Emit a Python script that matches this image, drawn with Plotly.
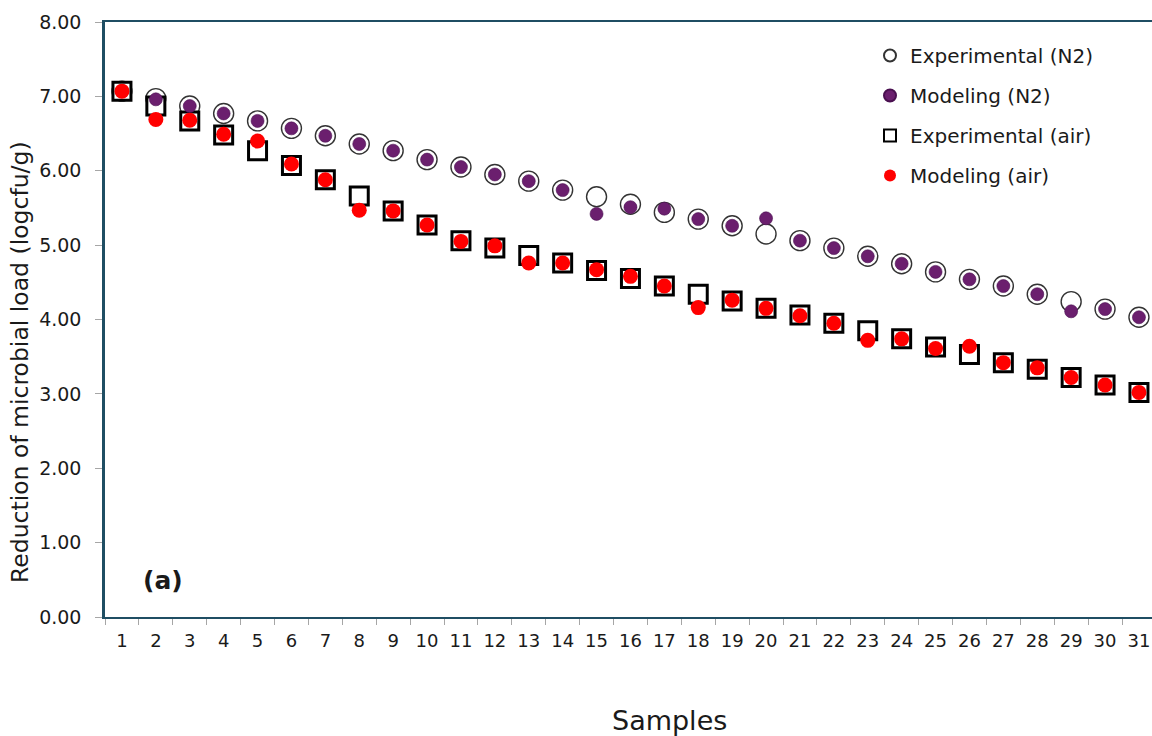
import plotly.graph_objects as go

# Sample numbers along the x axis
samples = [str(i) for i in range(1, 32)]

# Reduction of microbial load (logcfu/g)
exp_n2 = [7.07, 6.97, 6.87, 6.77, 6.67, 6.57, 6.47, 6.36, 6.27, 6.15,
          6.05, 5.95, 5.86, 5.74, 5.65, 5.55, 5.44, 5.35, 5.26, 5.15,
          5.06, 4.96, 4.85, 4.75, 4.64, 4.54, 4.45, 4.34, 4.24, 4.14, 4.03]
mod_n2 = [7.07, 6.96, 6.87, 6.77, 6.67, 6.57, 6.47, 6.36, 6.27, 6.15,
          6.05, 5.95, 5.86, 5.74, 5.42, 5.51, 5.49, 5.35, 5.26, 5.36,
          5.06, 4.96, 4.85, 4.75, 4.64, 4.54, 4.45, 4.34, 4.11, 4.14, 4.03]
exp_air = [7.07, 6.87, 6.67, 6.48, 6.27, 6.07, 5.88, 5.66, 5.46, 5.27,
           5.06, 4.96, 4.86, 4.76, 4.66, 4.55, 4.45, 4.34, 4.25, 4.15,
           4.06, 3.95, 3.85, 3.74, 3.63, 3.53, 3.42, 3.33, 3.22, 3.12, 3.02]
mod_air = [7.07, 6.69, 6.68, 6.49, 6.40, 6.09, 5.88, 5.47, 5.46, 5.27,
           5.05, 4.99, 4.76, 4.76, 4.67, 4.58, 4.45, 4.16, 4.26, 4.15,
           4.05, 3.95, 3.72, 3.74, 3.61, 3.64, 3.42, 3.35, 3.22, 3.12, 3.02]

y_ticks = [0, 1, 2, 3, 4, 5, 6, 7, 8]

FONT = "DejaVu Sans"
TEXT = "#1A1A1A"
AXIS = "#1F4E63"
TICK = "#A6A6A6"

W, H = 1152, 736
L, R, T, B = 105, 0, 22, 119
plot_w = W - L - R
plot_h = H - T - B
cat_px = 33.9  # width of one sample slot


def px_x(px):
    return (px - L) / plot_w


def px_y(py):
    return (H - B - py) / plot_h


fig = go.Figure()

fig.add_trace(go.Scatter(
    x=samples, y=exp_n2, mode="markers", name="Experimental (N2)",
    legendgroup="a", legendrank=1,
    marker=dict(symbol="circle", size=20, color="white",
                line=dict(color="#333333", width=1.4)),
))
fig.add_trace(go.Scatter(
    x=samples, y=exp_air, mode="markers", name="Experimental (air)",
    legendgroup="c", legendrank=3,
    marker=dict(symbol="square", size=18, color="white",
                line=dict(color="black", width=3)),
))
fig.add_trace(go.Scatter(
    x=samples, y=mod_n2, mode="markers", name="Modeling (N2)",
    legendgroup="b", legendrank=2,
    marker=dict(symbol="circle", size=13, color="#6B1F6E",
                line=dict(color="#4A1050", width=0.6)),
))
fig.add_trace(go.Scatter(
    x=samples, y=mod_air, mode="markers", name="Modeling (air)",
    legendgroup="d", legendrank=4,
    marker=dict(symbol="circle", size=15, color="#FF0000",
                line=dict(width=0)),
))

fig.update_layout(
    width=W, height=H,
    margin=dict(l=L, r=R, t=T, b=B, pad=0),
    plot_bgcolor="white", paper_bgcolor="white",
    font=dict(family=FONT, color=TEXT),
    showlegend=True,
    legend=dict(
        x=px_x(870), y=px_y(36), xanchor="left", yanchor="top",
        font=dict(size=20, family=FONT, color=TEXT),
        bgcolor="rgba(0,0,0,0)", itemsizing="constant",
        tracegroupgap=11, traceorder="grouped",
    ),
    xaxis=dict(
        type="category", categoryorder="array", categoryarray=samples,
        range=[-0.5, -0.5 + plot_w / cat_px],
        tickson="boundaries", ticks="outside", ticklen=6,
        tickcolor=TICK, tickwidth=1,
        showline=True, linecolor=AXIS, linewidth=2, mirror=True,
        showgrid=False, zeroline=False,
        tickfont=dict(size=18, family=FONT, color=TEXT),
        ticklabelstandoff=6,
    ),
    yaxis=dict(
        range=[0, 8], tickvals=y_ticks, tickformat=".2f",
        ticks="outside", ticklen=7, tickcolor=TICK, tickwidth=1,
        showline=True, linecolor=AXIS, linewidth=2.5,
        showgrid=False, zeroline=False,
        tickfont=dict(size=19, family=FONT, color=TEXT),
        ticklabelstandoff=10,
    ),
    annotations=[
        dict(text="Reduction of microbial load (logcfu/g)", textangle=-90,
             xref="paper", yref="paper", x=px_x(20), y=px_y(362),
             xanchor="center", yanchor="middle", showarrow=False,
             font=dict(size=23.5, family=FONT, color=TEXT)),
        dict(text="Samples", xref="paper", yref="paper",
             x=px_x(669), y=px_y(720), xanchor="center", yanchor="middle",
             showarrow=False,
             font=dict(size=27, family=FONT, color=TEXT)),
        dict(text="<b>(a)</b>", xref="paper", yref="paper",
             x=px_x(163), y=px_y(580), xanchor="center", yanchor="middle",
             showarrow=False,
             font=dict(size=25, family=FONT, color=TEXT)),
    ],
)

fig.write_html("out.html")
